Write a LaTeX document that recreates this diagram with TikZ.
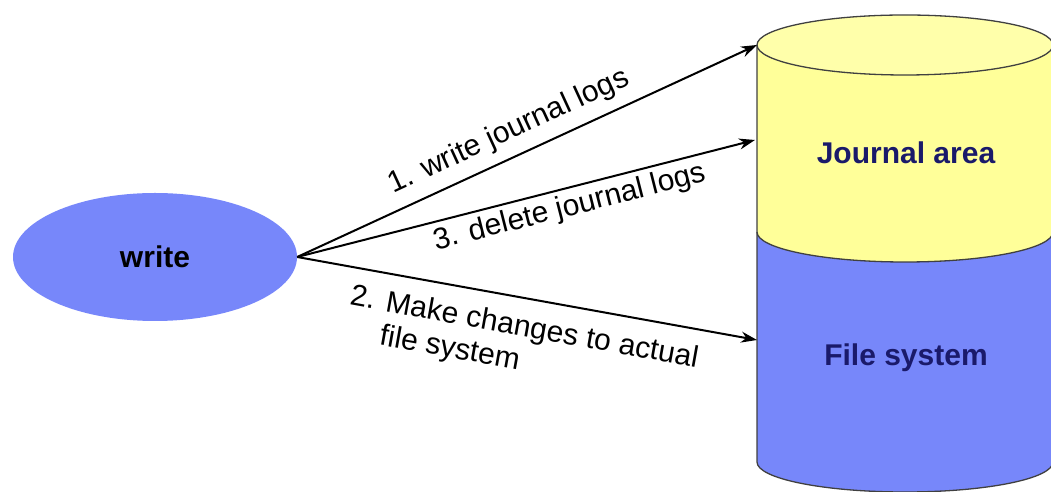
\documentclass[tikz,border=0pt]{standalone}
\usepackage{fontspec}
\setmainfont{Liberation Sans}
\usetikzlibrary{shapes.geometric,arrows.meta}
\definecolor{cylyellow}{HTML}{FFFF99}
\definecolor{cyltop}{HTML}{FFFFAA}
\definecolor{cylblue}{HTML}{7787FA}
\definecolor{navy}{HTML}{1A1A6A}
\tikzset{
  conn/.style={line width=2pt,-{Stealth[length=16pt,width=11pt]}},
  lbl/.style={font=\fontsize{30}{34}\selectfont,inner sep=2pt,sloped},
  cyltext/.style={font=\fontsize{30}{34}\selectfont\bfseries,text=navy},
  outline/.style={draw=black!75,line width=1.3pt}
}
\begin{document}
\begin{tikzpicture}[x=1pt,y=1pt]
\useasboundingbox (0,0) rectangle (1051,492);
% cylinder
\fill[cylblue] (757,260) -- (757,30) arc[start angle=180,end angle=360,x radius=148,y radius=30]
  -- (1053,260) arc[start angle=360,end angle=180,x radius=148,y radius=30] -- cycle;
\fill[cylyellow] (757,447) -- (757,260) arc[start angle=180,end angle=360,x radius=148,y radius=30]
  -- (1053,447) -- cycle;
\filldraw[fill=cyltop,outline] (905,447) ellipse[x radius=148,y radius=30];
\draw[outline] (757,447) -- (757,30) arc[start angle=180,end angle=360,x radius=148,y radius=30];
\draw[outline] (757,260) arc[start angle=180,end angle=360,x radius=148,y radius=30];
\node[cyltext] (journal) at (906,339) {Journal area};
\node[cyltext] (fs) at (906,134) {File system};
\coordinate (t1) at (757,447);
\coordinate (t3) at (755,352);
\coordinate (t2) at (757,152);
% write ellipse
\node[ellipse,fill=cylblue,minimum width=284pt,minimum height=128pt,inner sep=0pt,
  font=\fontsize{30}{34}\selectfont\bfseries] (w) at (155,235) {write};
% connectors
\draw[conn] (w.east) -- (t1) node[lbl,pos=0.483,above=8pt] {1. write journal logs};
\draw[conn] (w.east) -- (t3) node[lbl,pos=0.585,below=3pt] {3. delete journal logs};
\draw[conn] (w.east) -- (t2) node[lbl,pos=0.505,below=13pt,align=left] {2. Make changes to actual\\\phantom{2. }file system};
\end{tikzpicture}
\end{document}
